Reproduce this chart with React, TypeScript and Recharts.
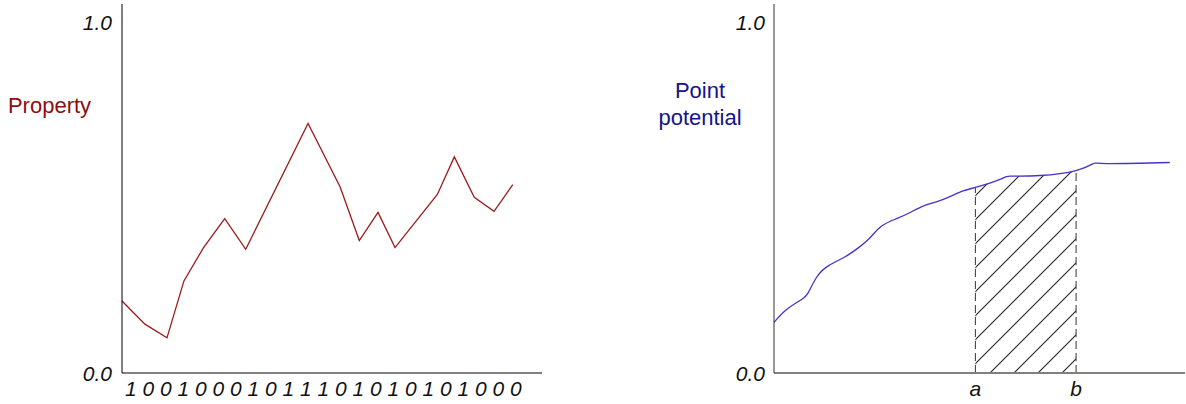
import React from "react";
import { LineChart, ComposedChart, Line, Area, XAxis, YAxis, ReferenceLine, Label } from "recharts";

// bit string under the left plot
const bitLabels = ["1", "0", "0", "1", "0", "0", "0", "1", "0", "1", "1", "1", "0", "1", "0", "1", "0", "1", "0", "1", "0", "0", "0"];

// left plot: property along the string
const propertyX = [0, 1.31, 2.57, 3.54, 4.65, 5.87, 7.07, 10.63, 12.46, 13.56, 14.63, 15.6, 18.02, 18.99, 20.13, 21.26, 22.33];
const propertyY = [0.205, 0.139, 0.1, 0.262, 0.356, 0.439, 0.352, 0.71, 0.53, 0.377, 0.457, 0.357, 0.508, 0.615, 0.5, 0.46, 0.536];

// right plot: point potential curve
const potentialX = [0, 0.03, 0.067, 0.083, 0.103, 0.131, 0.172, 0.205, 0.233, 0.262, 0.298, 0.33, 0.363, 0.395, 0.428, 0.46, 0.49, 0.55, 0.574, 0.647, 0.735, 0.777, 0.809, 0.963];
const potentialY = [0.144, 0.18, 0.209, 0.228, 0.271, 0.304, 0.33, 0.356, 0.384, 0.418, 0.439, 0.456, 0.475, 0.487, 0.502, 0.518, 0.528, 0.551, 0.56, 0.562, 0.576, 0.596, 0.596, 0.599];

// integration interval
const intervalLabels = ["a", "b"];
const intervalX = [0.49, 0.735];

const yTicks = [0, 1];

const FONT = "'Liberation Sans', Arial, sans-serif";
const bitTicks = bitLabels.map((_, i) => i + 0.5);

const propertyData = propertyX.map((x, i) => ({ x, y: propertyY[i] }));
const potentialData = potentialX.map((x, i) => ({
  x,
  y: potentialY[i],
  hatch: x >= intervalX[0] && x <= intervalX[1] ? potentialY[i] : null,
}));
const intervalY = intervalX.map((x) => potentialY[potentialX.indexOf(x)]);

// italic tick text, drawn by hand so the size sticks
const makeTick = (format: (v: number) => string, anchor: string, dy: number) => (props: any) => (
  <text
    x={props.x}
    y={props.y}
    dy={dy}
    textAnchor={anchor}
    fontSize={21}
    fontStyle="italic"
    fontFamily={FONT}
    fill="#111"
  >
    {format(props.payload.value)}
  </text>
);

const bitTick = makeTick((v) => bitLabels[Math.round(v - 0.5)], "middle", 15);
const intervalTick = makeTick((v) => intervalLabels[intervalX.indexOf(v)], "middle", 15);
const valueTick = makeTick((v) => v.toFixed(1), "end", 8);

export default function App() {
  return (
    <div style={{ position: "absolute", left: 0, top: 0, display: "flex", background: "#fff" }}>
      <LineChart width={560} height={404} data={propertyData} margin={{ top: 4, right: 18, bottom: 0, left: 0 }}>
        <XAxis
          dataKey="x"
          type="number"
          domain={[0, 24]}
          ticks={bitTicks}
          interval={0}
          tickLine={false}
          height={31}
          stroke="#808080"
          strokeWidth={2}
          tick={bitTick}
        />
        <YAxis
          type="number"
          domain={[0, 1.05]}
          ticks={yTicks}
          tickLine={false}
          width={122}
          tickMargin={4}
          stroke="#000"
          tick={valueTick}
        >
          <Label
            content={() => (
              <text x={49.5} y={113} textAnchor="middle" fill="#8b1010" fontSize={22} fontFamily={FONT}>
                Property
              </text>
            )}
          />
        </YAxis>
        <Line
          dataKey="y"
          type="linear"
          stroke="#9b1c1c"
          strokeWidth={1.3}
          dot={false}
          activeDot={false}
          isAnimationActive={false}
        />
      </LineChart>
      <ComposedChart width={626} height={404} data={potentialData} margin={{ top: 4, right: 1, bottom: 0, left: 0 }}>
        <defs>
          <pattern id="hatch" patternUnits="userSpaceOnUse" x={11} y={0} width={24} height={24}>
            <path d="M-6,6 L6,-6 M0,24 L24,0 M18,30 L30,18" stroke="#222" strokeWidth={1.1} />
          </pattern>
        </defs>
        <XAxis
          dataKey="x"
          type="number"
          domain={[0, 1]}
          ticks={intervalX}
          interval={0}
          tickLine={false}
          height={31}
          stroke="#808080"
          strokeWidth={2}
          tick={intervalTick}
        />
        <YAxis
          type="number"
          domain={[0, 1.05]}
          ticks={yTicks}
          tickLine={false}
          width={214}
          tickMargin={3}
          stroke="#333"
          tick={valueTick}
        >
          <Label
            content={() => (
              <text textAnchor="middle" fill="#14148c" fontSize={22} fontFamily={FONT}>
                <tspan x={140} y={97.5}>Point</tspan>
                <tspan x={140} y={124.5}>potential</tspan>
              </text>
            )}
          />
        </YAxis>
        <Area
          dataKey="hatch"
          type="natural"
          stroke="none"
          fill="url(#hatch)"
          fillOpacity={1}
          connectNulls={false}
          dot={false}
          activeDot={false}
          isAnimationActive={false}
        />
        {intervalX.map((x, i) => (
          <ReferenceLine
            key={x}
            segment={[
              { x, y: 0 },
              { x, y: intervalY[i] },
            ]}
            stroke="#333"
            strokeWidth={1}
            strokeDasharray="8 4"
          />
        ))}
        <Line
          dataKey="y"
          type="natural"
          stroke="#4433cc"
          strokeWidth={1.3}
          dot={false}
          activeDot={false}
          isAnimationActive={false}
        />
      </ComposedChart>
    </div>
  );
}
